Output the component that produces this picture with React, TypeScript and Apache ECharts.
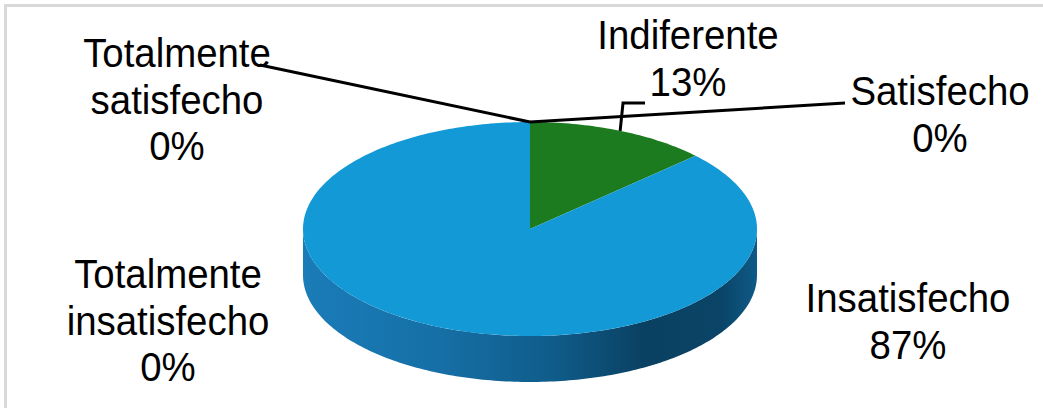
import React, { useEffect, useRef } from "react";
import * as echarts from "echarts";

// ---------- data ----------
const categories = [
  "Totalmente satisfecho",
  "Satisfecho",
  "Indiferente",
  "Insatisfecho",
  "Totalmente insatisfecho",
];
const labelNames = [
  ["Totalmente", "satisfecho"],
  ["Satisfecho"],
  ["Indiferente"],
  ["Insatisfecho"],
  ["Totalmente", "insatisfecho"],
];
const values = [0, 0, 13, 87, 0];

// ---------- styles / layout ----------
const topColors = ["#4f81bd", "#c0504d", "#1c7b1e", "#139ad6", "#8064a2"];
const labelBoxes = [
  [177, 30],
  [940, 68],
  [688, 12],
  [908, 275],
  [168, 251],
];
const leaderAnchors: (number[][] | null)[] = [
  [[260, 65]],
  [[845, 103]],
  [[645, 103], [623, 103]],
  null,
  null,
];

const CX = 530;
const CY = 229;
const RX = 227;
const RY = 107;
const DEPTH = 46;
const FONT = 40;
const LINE_H = 46.5;

const total = values.reduce((a, b) => a + b, 0);
const cumStart: number[] = [];
values.reduce((acc, v, i) => {
  cumStart[i] = acc;
  return acc + v;
}, 0);
const seriesData = values.map((v, i) => [v, cumStart[i], i]);

function pt(theta: number, dy = 0) {
  return [CX + RX * Math.sin(theta), CY - RY * Math.cos(theta) + dy];
}
function arc(t0: number, t1: number, dy = 0) {
  const pts: number[][] = [];
  const n = Math.max(2, Math.ceil(((t1 - t0) * 180) / Math.PI));
  for (let k = 0; k <= n; k++) pts.push(pt(t0 + ((t1 - t0) * k) / n, dy));
  return pts;
}

const sideGradient = {
  type: "linear",
  x: 0,
  y: 0,
  x2: 1,
  y2: 0,
  colorStops: [
    { offset: 0, color: "#1a7cb8" },
    { offset: 0.3, color: "#166fa6" },
    { offset: 0.55, color: "#0f5c8a" },
    { offset: 0.75, color: "#0a4162" },
    { offset: 0.92, color: "#0a4466" },
    { offset: 1, color: "#0e5a88" },
  ],
};

function renderItem(params: any, api: any) {
  const i = params.dataIndex;
  const v = api.value(0);
  const start = api.value(1);
  const t0 = (start / total) * Math.PI * 2;
  const t1 = ((start + v) / total) * Math.PI * 2;
  const children: any[] = [];

  if (v > 0) {
    const s0 = Math.max(t0, Math.PI / 2);
    const s1 = Math.min(t1, (Math.PI * 3) / 2);
    if (s1 > s0) {
      const topArc = arc(s0, s1);
      const botArc = arc(s0, s1, DEPTH).reverse();
      children.push({
        type: "polygon",
        z2: 1,
        shape: { points: topArc.concat(botArc) },
        style: { fill: sideGradient, stroke: null },
      });
    }
    children.push({
      type: "polygon",
      z2: 5,
      shape: { points: [[CX, CY]].concat(arc(t0, t1)) },
      style: { fill: topColors[i], stroke: null },
    });
  }

  const anchors = leaderAnchors[i];
  if (anchors) {
    const mid = (t0 + t1) / 2;
    children.push({
      type: "polyline",
      z2: 10,
      shape: { points: anchors.concat([pt(mid)]) },
      style: { stroke: "#000", lineWidth: 3, fill: null },
    });
  }

  const pct = Math.round((v / total) * 100) + "%";
  const lines = labelNames[i].concat([pct]);
  const [lx, ly] = labelBoxes[i];
  children.push({
    type: "text",
    z2: 20,
    x: lx,
    y: ly,
    scaleX: 0.96,
    style: {
      text: lines.join("\n"),
      fill: "#000",
      fontSize: FONT,
      fontFamily: "'Liberation Sans', Arial, sans-serif",
      align: "center",
      verticalAlign: "top",
      lineHeight: LINE_H,
    },
  });

  return { type: "group", children };
}

export default function App() {
  const ref = useRef<HTMLDivElement>(null);
  useEffect(() => {
    if (!ref.current) return;
    const chart = echarts.init(ref.current, undefined, { renderer: "svg" });
    chart.setOption({
      animation: false,
      backgroundColor: "#ffffff",
      graphic: [
        {
          type: "rect",
          z: -10,
          shape: { x: 5.5, y: 5.5, width: 1200, height: 600 },
          style: { fill: "none", stroke: "#d9d9d9", lineWidth: 3 },
          silent: true,
        },
      ],
      series: [
        {
          type: "custom",
          name: "Satisfacción",
          coordinateSystem: "none",
          silent: true,
          renderItem,
          data: seriesData,
          dimensions: ["value", "start", "index"],
        },
      ],
    });
    return () => chart.dispose();
  }, []);
  return (
    <div
      ref={ref}
      style={{ position: "fixed", left: 0, top: 0, width: 1043, height: 408 }}
      aria-label={categories.join(", ")}
    />
  );
}
